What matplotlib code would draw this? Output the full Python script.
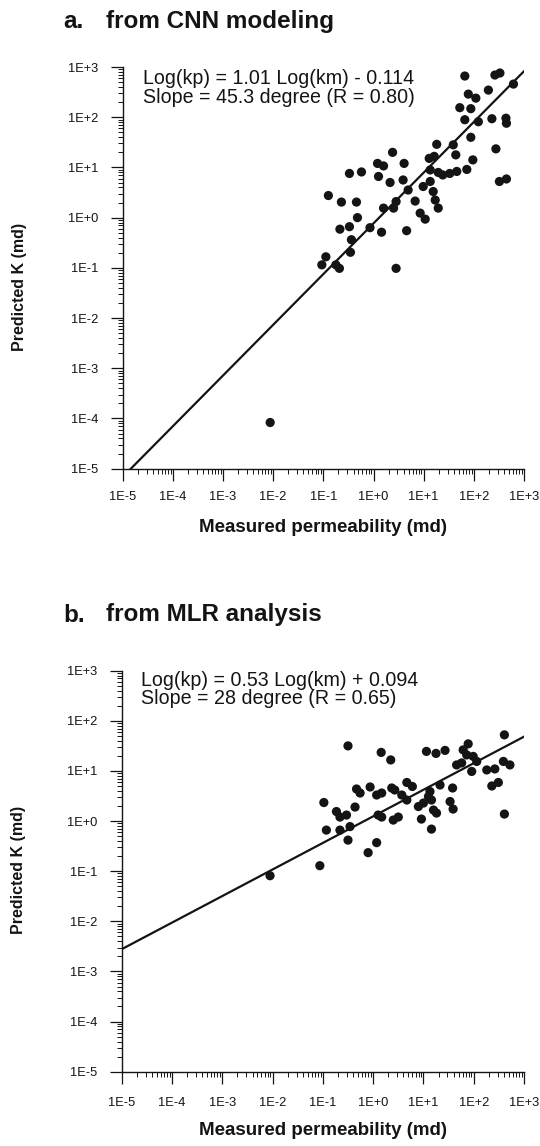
import numpy as np
import matplotlib
matplotlib.use("Agg")
import matplotlib.pyplot as plt
from matplotlib.ticker import LogLocator, FuncFormatter, NullFormatter

plt.rcParams["font.family"] = ["Liberation Sans", "DejaVu Sans"]

W, H = 540, 1146

# ---- data (log10 of permeability in md) ----
cnn_log_measured = [
    1.82, 2.42, 2.52, 2.79, 2.29, 1.89, 2.04, 1.72, 1.94, 1.82,
    2.09, 2.36, 2.64, 2.65, 1.94, 1.59, 1.26, 2.44, 1.64, 1.11,
    1.21, 1.98, 0.38, 0.08, 0.20, 0.61, -0.48, -0.24, 0.10, 0.33,
    0.59, 1.13, 1.29, 1.38, 1.52, 1.66, 1.86, 2.51, 2.65, 0.69,
    0.99, 1.13, -0.90, -0.64, -0.34, 1.19, 1.23, 1.29, 0.83, 0.45,
    0.40, 0.20, 0.93, 1.03, -0.32, -0.67, -0.48, -0.07, 0.16, 0.66,
    -0.44, -0.46, -0.95, -1.03, -0.75, -0.68, 0.45, -2.06,
]
cnn_log_predicted = [
    2.82, 2.84, 2.88, 2.66, 2.54, 2.46, 2.38, 2.19, 2.17, 1.95,
    1.91, 1.97, 1.98, 1.88, 1.60, 1.45, 1.46, 1.37, 1.25, 1.18,
    1.22, 1.15, 1.30, 1.08, 1.03, 1.08, 0.88, 0.91, 0.82, 0.70,
    0.75, 0.95, 0.90, 0.85, 0.88, 0.92, 0.96, 0.72, 0.77, 0.55,
    0.62, 0.72, 0.44, 0.31, 0.31, 0.52, 0.35, 0.19, 0.33, 0.32,
    0.19, 0.19, 0.09, -0.03, 0.00, -0.23, -0.18, -0.20, -0.29, -0.26,
    -0.44, -0.69, -0.78, -0.94, -0.94, -1.01, -1.01, -4.08,
]

mlr_log_measured = [
    -0.50, 0.16, 0.35, 1.06, 1.25, 1.43, 1.89, 1.79, 1.86, 1.99,
    2.06, 1.66, 1.76, 1.96, 2.61, 2.26, 2.42, 2.59, 2.72, 2.36,
    2.49, 2.61, -0.33, -0.26, -0.06, 0.07, 0.17, 0.37, 0.43, 0.67,
    0.57, 0.67, 0.78, 1.33, 1.58, 1.13, 1.10, 1.16, 1.00, 0.90,
    1.20, 1.26, 1.53, 1.59, 0.96, 1.16, -0.98, -0.73, -0.66, -0.53,
    -0.36, 0.10, 0.17, 0.50, 0.40, -0.46, -0.93, -0.66, -0.50, 0.07,
    -0.10, -1.06, -2.05,
]
mlr_log_predicted = [
    1.50, 1.37, 1.22, 1.39, 1.35, 1.41, 1.54, 1.42, 1.32, 1.29,
    1.19, 1.12, 1.16, 0.99, 1.72, 1.02, 1.04, 1.19, 1.12, 0.70,
    0.77, 0.14, 0.64, 0.56, 0.68, 0.52, 0.56, 0.66, 0.62, 0.77,
    0.52, 0.42, 0.69, 0.72, 0.66, 0.59, 0.49, 0.42, 0.36, 0.29,
    0.22, 0.16, 0.39, 0.24, 0.04, -0.16, 0.37, 0.19, 0.08, 0.12,
    0.28, 0.12, 0.08, 0.08, 0.02, -0.11, -0.18, -0.18, -0.38, -0.43,
    -0.63, -0.89, -1.09,
]

# regression lines: log(kp) = slope * log(km) + intercept
cnn_fit = (1.01, -0.114)
mlr_fit = (0.53, 0.094)

cnn_text = ["Log(kp) = 1.01 Log(km) - 0.114", "Slope = 45.3 degree (R = 0.80)"]
mlr_text = ["Log(kp) = 0.53 Log(km) + 0.094", "Slope = 28 degree (R = 0.65)"]

decade_exponents = list(range(-5, 4))
x_label = "Measured permeability (md)"
y_label = "Predicted K (md)"

INK = "#141414"


def px_box(left, top, right, bottom):
    return [left / W, 1 - bottom / H, (right - left) / W, (bottom - top) / H]


def decade_label(v, pos):
    e = int(round(np.log10(v)))
    return f"1E{e:+d}"


def style_axes(ax, xpad, ylabel_y):
    lo, hi = 10.0 ** decade_exponents[0], 10.0 ** decade_exponents[-1]
    ax.set_xscale("log")
    ax.set_yscale("log")
    ax.set_xlim(lo, hi)
    ax.set_ylim(lo, hi)
    for side in ("top", "right"):
        ax.spines[side].set_visible(False)
    for side in ("left", "bottom"):
        ax.spines[side].set_linewidth(1.0)
        ax.spines[side].set_color(INK)
    for axis in (ax.xaxis, ax.yaxis):
        axis.set_major_locator(LogLocator(base=10, numticks=20))
        axis.set_minor_locator(LogLocator(base=10, subs=np.arange(2, 10), numticks=20))
        axis.set_major_formatter(FuncFormatter(decade_label))
        axis.set_minor_formatter(NullFormatter())
    ax.tick_params(which="major", direction="out", length=8.6, width=0.9,
                   color=INK, labelsize=9.3, labelcolor=INK)
    ax.tick_params(which="minor", direction="out", length=3.8, width=0.7, color=INK)
    ax.tick_params(axis="x", which="major", pad=xpad)
    ax.tick_params(axis="y", which="major", pad=9.0)
    ax.set_xlabel(x_label, fontsize=13.5, fontweight="bold", color=INK)
    ax.xaxis.label.set_va("center")
    ax.xaxis.set_label_coords(0.5, -0.146)
    ax.set_ylabel(y_label, fontsize=11.5, fontweight="bold", color=INK)
    ax.yaxis.label.set_va("center")
    ax.yaxis.set_label_coords(-0.256, ylabel_y)


def draw_panel(ax, log_x, log_y, fit, lines, text_xy):
    kx = 10.0 ** np.asarray(log_x)
    ky = 10.0 ** np.asarray(log_y)
    ax.scatter(kx, ky, s=44, color=INK, edgecolors="none", zorder=3, clip_on=False)
    slope, intercept = fit
    lx = np.array([decade_exponents[0], decade_exponents[-1]], dtype=float)
    ax.plot(10.0 ** lx, 10.0 ** (slope * lx + intercept), color=INK, lw=1.6, zorder=2)
    ax.text(text_xy[0], text_xy[1], "\n".join(lines), transform=ax.transAxes,
            ha="left", va="top", fontsize=14.1, color=INK, linespacing=0.98)


fig = plt.figure(figsize=(W / 100, H / 100), dpi=100)
fig.patch.set_facecolor("white")

ax_a = fig.add_axes(px_box(122.7, 67.0, 524.0, 468.7))
style_axes(ax_a, xpad=7.5, ylabel_y=0.452)
draw_panel(ax_a, cnn_log_measured, cnn_log_predicted, cnn_fit, cnn_text, (0.05, 0.995))

ax_b = fig.add_axes(px_box(121.7, 670.7, 524.0, 1071.7))
style_axes(ax_b, xpad=9.5, ylabel_y=0.504)
draw_panel(ax_b, mlr_log_measured, mlr_log_predicted, mlr_fit, mlr_text, (0.047, 1.0))

# panel headings
for letter, title, base_px in (("a.", "from CNN modeling", 28.0),
                               ("b.", "from MLR analysis", 621.5)):
    fig.text(63 / W, 1 - base_px / H, letter, fontsize=17.5, fontweight="bold",
             color=INK, ha="left", va="baseline")
    fig.text(106 / W, 1 - base_px / H, title, fontsize=17.5, fontweight="bold",
             color=INK, ha="left", va="baseline")

fig.savefig("out.png", dpi=100, facecolor="white")
